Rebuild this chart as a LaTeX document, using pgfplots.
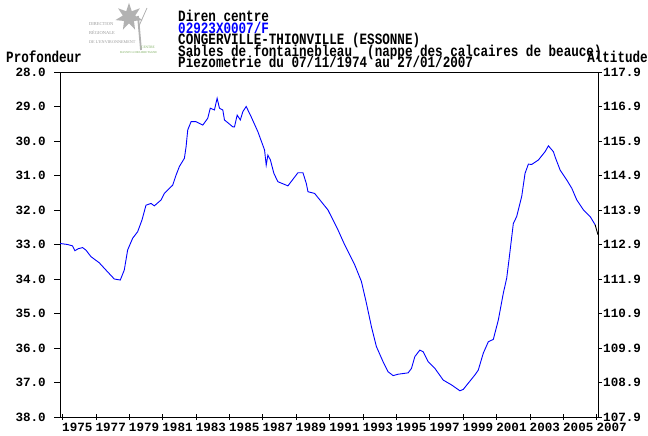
\documentclass[border=0pt]{standalone}
\usepackage{pgfplots}
\pgfplotsset{compat=1.18}
\usepackage{fontspec}
\usetikzlibrary{shapes.geometric}
\newfontfamily\mono{Liberation Mono}
\newfontfamily\logofont{Liberation Serif}
\newcommand\lab{\fontsize{12.6}{12}\selectfont\mono\bfseries}
\newcommand\hd[1]{\scalebox{1}[1.25]{\lab #1}}
\definecolor{piezo}{RGB}{0,0,255}
\definecolor{logogreen}{RGB}{120,170,90}

\begin{document}
\begin{tikzpicture}[x=1pt,y=1pt]
\useasboundingbox (0,0) rectangle (648,436);

% logo
\node[star, star points=7, star point ratio=2.2, fill=gray!60, minimum size=28pt, inner sep=0pt] at (129,419) {};
\draw[gray!60, line width=1.8pt] (138,420) -- (141,386);
\draw[gray!60, line width=0.8pt] (139,410) -- (147,428);
\node[anchor=base west, inner sep=0pt, text=gray!80] at (89,410) {\logofont\fontsize{4.5}{4.5}\selectfont DIRECTION};
\node[anchor=base west, inner sep=0pt, text=gray!80] at (89,401) {\logofont\fontsize{4.5}{4.5}\selectfont RÉGIONALE};
\node[anchor=base west, inner sep=0pt, text=gray!80] at (89,392) {\logofont\fontsize{4.2}{4.2}\selectfont DE L'ENVIRONNEMENT};
\node[anchor=base west, inner sep=0pt, text=logogreen] at (141,387) {\logofont\fontsize{3.5}{3.5}\selectfont CENTRE};
\node[anchor=base west, inner sep=0pt, text=logogreen] at (120,382) {\logofont\fontsize{3}{3}\selectfont BASSIN LOIRE-BRETAGNE};

% header
\node[anchor=base west, inner sep=0pt] at (178,414) {\hd{Diren centre}};
\node[anchor=base west, inner sep=0pt, text=piezo] at (178,402.5) {\hd{02923X0007/F}};
\node[anchor=base west, inner sep=0pt] at (178,391) {\hd{CONGERVILLE-THIONVILLE (ESSONNE)}};
\node[anchor=base west, inner sep=0pt] at (178,379.5) {\hd{Sables de fontainebleau\ \ (nappe des calcaires de beauce)}};
\node[anchor=base west, inner sep=0pt] at (178,368) {\hd{Piezometrie du 07/11/1974 au 27/01/2007}};
\node[anchor=base west, inner sep=0pt] at (6,373) {\hd{Profondeur}};
\node[anchor=base east, inner sep=0pt] at (648,373) {\hd{Altitude}};

\begin{axis}[
    at={(60pt,19pt)}, anchor=south west,
    scale only axis,
    width=538pt, height=345pt,
    xmin=1974.85, xmax=2007.07,
    ymin=28, ymax=38,
    y dir=reverse,
    axis line style={line width=0.8pt},
    xtick={1975,1977,...,2007},
    ytick={28,29,...,38},
    tick style={black, line width=0.8pt},
    x tick label style={/pgf/number format/1000 sep={}, anchor=north west, inner sep=0pt, xshift=-0.5pt, yshift=-3pt},
    y tick label style={/pgf/number format/.cd, fixed, fixed zerofill, precision=1, /tikz/.cd, inner sep=0pt, xshift=-8pt},
    /pgf/number format/assume math mode=true,
    ticklabel style={font=\lab},
    xtick pos=bottom, ytick pos=left,
    xtick align=center, ytick align=outside,
    major tick length=6pt,
]
\addplot[piezo, line width=0.9pt] coordinates {
(1974.85,32.97) (1975.3,33.00) (1975.6,33.04) (1975.74,33.18) (1975.95,33.12)
(1976.2,33.09) (1976.4,33.16) (1976.7,33.35) (1977.2,33.53) (1977.6,33.74)
(1978.1,34.00) (1978.46,34.03) (1978.7,33.74) (1978.9,33.16) (1979.2,32.82)
(1979.5,32.63) (1979.76,32.29) (1980.0,31.86) (1980.3,31.81) (1980.5,31.88)
(1980.9,31.71) (1981.1,31.52) (1981.6,31.28) (1981.8,30.99) (1982.0,30.74)
(1982.3,30.50) (1982.4,30.17) (1982.5,29.68) (1982.7,29.44) (1983.0,29.44)
(1983.4,29.54) (1983.7,29.34) (1983.85,29.05) (1984.1,29.10) (1984.26,28.76)
(1984.4,29.05) (1984.6,29.10) (1984.7,29.39) (1985.2,29.59) (1985.3,29.59)
(1985.46,29.25) (1985.65,29.39) (1985.8,29.15) (1986.0,29.00) (1986.3,29.30)
(1986.7,29.73) (1987.1,30.26) (1987.2,30.70) (1987.3,30.41) (1987.45,30.55)
(1987.66,30.94) (1987.9,31.18) (1988.5,31.30) (1989.1,30.92) (1989.4,30.92)
(1989.6,31.23) (1989.7,31.47) (1990.1,31.52) (1990.9,32.00) (1991.5,32.58)
(1991.9,33.01) (1992.5,33.59) (1992.9,34.07) (1993.2,34.70) (1993.5,35.38)
(1993.8,35.96) (1994.2,36.40) (1994.5,36.69) (1994.8,36.80) (1995.1,36.76)
(1995.7,36.72) (1995.9,36.59) (1996.1,36.25) (1996.4,36.06) (1996.6,36.11)
(1996.9,36.40) (1997.3,36.59) (1997.8,36.93) (1998.3,37.07) (1998.8,37.24)
(1999.0,37.20) (1999.3,37.02) (1999.7,36.78) (1999.9,36.64) (2000.2,36.15)
(2000.5,35.82) (2000.8,35.75) (2001.1,35.19) (2001.4,34.41) (2001.6,33.98)
(2001.75,33.40) (2002.0,32.39) (2002.2,32.19) (2002.5,31.61) (2002.7,30.94)
(2002.9,30.67) (2003.1,30.68) (2003.5,30.55) (2003.9,30.31) (2004.1,30.14)
(2004.4,30.31) (2004.5,30.46) (2004.8,30.84) (2005.2,31.13) (2005.5,31.37)
(2005.8,31.71) (2006.2,32.00) (2006.6,32.19) (2006.9,32.43)
};
\addplot[black, line width=0.9pt] coordinates {(2006.9,32.43) (2007.07,32.72)};
\end{axis}

\begin{axis}[
    at={(60pt,19pt)}, anchor=south west,
    scale only axis,
    width=538pt, height=345pt,
    xmin=1974.85, xmax=2007.07,
    ymin=107.9, ymax=117.9,
    axis x line=none,
    axis y line*=right,
    axis line style={line width=0.8pt, -},
    ytick={107.9,108.9,109.9,110.9,111.9,112.9,113.9,114.9,115.9,116.9,117.9},
    tick style={black, line width=0.8pt},
    y tick label style={/pgf/number format/.cd, fixed, fixed zerofill, precision=1, /tikz/.cd, anchor=west, inner sep=0pt, xshift=1pt},
    /pgf/number format/assume math mode=true,
    ticklabel style={font=\lab},
    ytick align=outside,
    major tick length=4pt,
]
\end{axis}
\end{tikzpicture}
\end{document}
